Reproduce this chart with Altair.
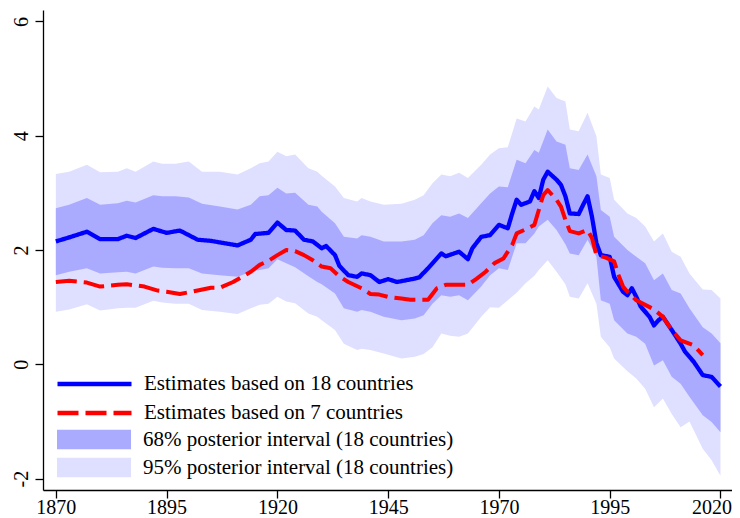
import altair as alt
import pandas as pd

# ---------------- data ----------------
band_years = [1870, 1873, 1877, 1880, 1884, 1886, 1888, 1892, 1894, 1897,
              1900, 1903, 1907, 1911, 1914, 1916, 1918, 1920, 1922, 1924,
              1927, 1929, 1930, 1933, 1935, 1938, 1939, 1941, 1944, 1948,
              1951, 1953, 1955, 1957, 1959, 1961, 1963, 1966, 1968, 1970,
              1972, 1974, 1976, 1978, 1979, 1981, 1983, 1985, 1986, 1988,
              1990, 1992, 1993, 1995, 1996, 1999, 2001, 2003, 2005, 2007,
              2009, 2011, 2013, 2016, 2018, 2020]
upper95 = [3.33, 3.37, 3.49, 3.36, 3.37, 3.43, 3.37, 3.55, 3.51, 3.51,
           3.55, 3.37, 3.37, 3.32, 3.43, 3.52, 3.55, 3.72, 3.64, 3.67,
           3.43, 3.37, 3.30, 3.11, 2.91, 2.85, 2.91, 2.85, 2.79, 2.81,
           2.88, 2.96, 3.17, 3.32, 3.29, 3.35, 3.26, 3.49, 3.67, 3.78,
           3.80, 4.30, 4.25, 4.51, 4.46, 4.86, 4.66, 4.60, 4.11, 4.08,
           4.40, 3.99, 3.32, 3.26, 2.88, 2.64, 2.56, 2.41, 2.15, 2.29,
           1.97, 1.88, 1.59, 1.31, 1.30, 1.15]
upper68 = [2.73, 2.79, 2.91, 2.79, 2.82, 2.86, 2.83, 2.96, 2.94, 2.94,
           2.92, 2.81, 2.76, 2.71, 2.79, 2.94, 2.96, 3.09, 2.99, 3.00,
           2.79, 2.76, 2.67, 2.47, 2.23, 2.20, 2.26, 2.23, 2.15, 2.15,
           2.18, 2.26, 2.47, 2.61, 2.58, 2.64, 2.56, 2.82, 2.99, 3.11,
           3.10, 3.58, 3.52, 3.75, 3.70, 4.11, 3.90, 3.84, 3.43, 3.40,
           3.67, 3.29, 2.70, 2.58, 2.23, 2.00, 1.88, 1.77, 1.47, 1.59,
           1.30, 1.24, 0.98, 0.65, 0.54, 0.37]
lower68 = [1.56, 1.62, 1.68, 1.59, 1.61, 1.62, 1.59, 1.71, 1.69, 1.68,
           1.68, 1.59, 1.56, 1.53, 1.62, 1.65, 1.68, 1.84, 1.77, 1.70,
           1.54, 1.44, 1.40, 1.24, 0.98, 0.92, 0.95, 0.92, 0.83, 0.77,
           0.80, 0.86, 1.06, 1.21, 1.18, 1.21, 1.12, 1.36, 1.56, 1.68,
           1.65, 2.12, 2.12, 2.29, 2.41, 2.53, 2.35, 2.10, 1.94, 1.91,
           2.18, 1.88, 1.12, 1.06, 0.77, 0.54, 0.48, 0.36, -0.02, 0.07,
           -0.22, -0.34, -0.57, -0.89, -1.01, -1.19]
lower95 = [0.92, 0.96, 1.05, 0.94, 0.98, 0.99, 0.99, 1.11, 1.08, 1.06,
           1.06, 0.95, 0.92, 0.88, 0.98, 1.04, 1.06, 1.18, 1.10, 1.07,
           0.89, 0.83, 0.77, 0.60, 0.36, 0.25, 0.27, 0.25, 0.19, 0.10,
           0.13, 0.18, 0.30, 0.54, 0.50, 0.48, 0.54, 0.83, 1.00, 0.99,
           1.12, 1.25, 1.42, 1.55, 1.65, 1.82, 1.62, 1.40, 1.18, 1.15,
           1.42, 1.06, 0.48, 0.30, 0.10, -0.12, -0.25, -0.43, -0.75, -0.60,
           -0.87, -1.10, -1.00, -1.48, -1.68, -1.95]

blue_years = [1870, 1873, 1877, 1880, 1884, 1886, 1888, 1892, 1895, 1898,
              1902, 1905, 1908, 1911, 1914, 1915, 1918, 1920, 1922, 1924,
              1926, 1928, 1930, 1931, 1933, 1934, 1936, 1938, 1939, 1941,
              1943, 1945, 1947, 1949, 1951, 1952, 1954, 1957, 1958, 1961,
              1963, 1964, 1966, 1968, 1970, 1972, 1973, 1974, 1975, 1977,
              1978, 1979, 1980, 1981, 1983, 1984, 1985, 1986, 1988, 1989,
              1990, 1991, 1992, 1993, 1995, 1996, 1998, 1999, 2000, 2001,
              2002, 2004, 2005, 2006, 2007, 2009, 2010, 2011, 2012, 2014,
              2016, 2018, 2020]
blue_vals = [2.15, 2.22, 2.32, 2.19, 2.19, 2.25, 2.21, 2.37, 2.30, 2.34,
             2.18, 2.16, 2.12, 2.08, 2.18, 2.28, 2.30, 2.48, 2.35, 2.34,
             2.18, 2.15, 2.03, 2.07, 1.91, 1.72, 1.56, 1.53, 1.59, 1.56,
             1.44, 1.49, 1.44, 1.47, 1.50, 1.52, 1.68, 1.94, 1.89, 1.97,
             1.84, 2.03, 2.23, 2.26, 2.44, 2.38, 2.64, 2.88, 2.79, 2.85,
             3.03, 2.91, 3.23, 3.37, 3.23, 3.14, 2.94, 2.64, 2.63, 2.79,
             2.94, 2.58, 2.12, 1.91, 1.88, 1.53, 1.27, 1.21, 1.33, 1.18,
             1.01, 0.83, 0.68, 0.77, 0.83, 0.60, 0.48, 0.36, 0.22, 0.04,
             -0.19, -0.22, -0.39]

red_years = [1870, 1873, 1877, 1880, 1884, 1886, 1890, 1893, 1895, 1898,
             1902, 1905, 1907, 1910, 1912, 1914, 1916, 1918, 1920, 1922,
             1924, 1926, 1928, 1930, 1932, 1934, 1936, 1939, 1941, 1943,
             1945, 1948, 1950, 1954, 1956, 1958, 1961, 1963, 1965, 1967,
             1969, 1971, 1973, 1974, 1976, 1978, 1979, 1980, 1981, 1983,
             1984, 1985, 1986, 1988, 1990, 1991, 1992, 1994, 1996, 1997,
             1998, 1999, 2001, 2005, 2007, 2009, 2011, 2014, 2016]
red_vals = [1.44, 1.46, 1.43, 1.36, 1.39, 1.40, 1.36, 1.29, 1.27, 1.23,
            1.29, 1.34, 1.34, 1.44, 1.53, 1.62, 1.74, 1.81, 1.91, 2.00,
            1.98, 1.91, 1.82, 1.71, 1.68, 1.54, 1.44, 1.33, 1.23, 1.22,
            1.18, 1.15, 1.13, 1.13, 1.33, 1.39, 1.39, 1.39, 1.50, 1.62,
            1.77, 1.85, 2.09, 2.29, 2.36, 2.44, 2.70, 2.96, 3.05, 2.88,
            2.76, 2.53, 2.33, 2.29, 2.35, 2.21, 1.91, 1.87, 1.80, 1.56,
            1.36, 1.27, 1.12, 0.96, 0.83, 0.60, 0.42, 0.33, 0.16]

x_ticks = [1870, 1895, 1920, 1945, 1970, 1995, 2020]
y_ticks = [-2, 0, 2, 4, 6]

LINE18 = "Estimates based on 18 countries"
LINE7 = "Estimates based on 7 countries"
BAND68 = "68% posterior interval (18 countries)"
BAND95 = "95% posterior interval (18 countries)"

# ---------------- tables ----------------
n = len(band_years)
bands = pd.DataFrame({
    "year": band_years + band_years,
    "lo": lower68 + lower95,
    "hi": upper68 + upper95,
    "band": [BAND68] * n + [BAND95] * n,
})
lines = pd.DataFrame({
    "year": blue_years + red_years,
    "value": blue_vals + red_vals,
    "series": [LINE18] * len(blue_years) + [LINE7] * len(red_years),
})

FONT = "Liberation Serif"

x_enc = alt.X("year:Q",
              scale=alt.Scale(domain=[1867.1, 2022.6], nice=False, zero=False),
              axis=alt.Axis(values=x_ticks, format="d", title=None,
                            tickSize=8, labelPadding=-1, labelBaseline="top",
                            labelFlush=12.2, labelFlushOffset=11))
y_scale = alt.Scale(domain=[-2.2, 6.2], nice=False, zero=False)
y_axis = alt.Axis(values=y_ticks, title=None, tickSize=8, labelPadding=8,
                  labelAngle=270, labelAlign="center",
                  labelBaseline="alphabetic",
                  labelExpr="'' + datum.value")

fill_scale = alt.Scale(domain=[BAND68, BAND95], range=["#aaaaff", "#dfdfff"])
fill_legend = alt.Legend(orient="none", legendX=14, legendY=419.5, title=None,
                         symbolType="M-1,-0.27H1V0.27H-1Z", symbolSize=5476,
                         symbolStrokeWidth=0, clipHeight=20, rowPadding=7,
                         labelOffset=12, labelFont=FONT, labelFontSize=21,
                         labelColor="black", labelLimit=600, padding=0,
                         symbolOpacity=1)

color_scale = alt.Scale(domain=[LINE18, LINE7], range=["#0000ff", "#ff0000"])
dash_scale = alt.Scale(domain=[LINE18, LINE7], range=[[1, 0], [21, 7]])
line_legend = alt.Legend(orient="none", legendX=12, legendY=364, title=None,
                         symbolType="stroke", symbolSize=5476,
                         symbolStrokeWidth=4.5, clipHeight=20, rowPadding=8,
                         labelOffset=10, labelFont=FONT, labelFontSize=21,
                         labelColor="black", labelLimit=600, padding=0)

base_band = alt.Chart(bands)
area95 = base_band.transform_filter(alt.datum.band == BAND95).mark_area(
    opacity=1, interpolate="linear").encode(
    x=x_enc,
    y=alt.Y("hi:Q", scale=y_scale, axis=y_axis),
    y2="lo:Q",
    fill=alt.Fill("band:N", scale=fill_scale, legend=fill_legend),
)
area68 = base_band.transform_filter(alt.datum.band == BAND68).mark_area(
    opacity=1, interpolate="linear").encode(
    x=x_enc,
    y=alt.Y("hi:Q", scale=y_scale, axis=y_axis),
    y2="lo:Q",
    fill=alt.Fill("band:N", scale=fill_scale, legend=fill_legend),
)

base_line = alt.Chart(lines)
line_enc = dict(
    x=x_enc,
    y=alt.Y("value:Q", scale=y_scale, axis=y_axis),
    color=alt.Color("series:N", scale=color_scale, legend=line_legend),
    strokeDash=alt.StrokeDash("series:N", scale=dash_scale, legend=line_legend),
)
blue = base_line.transform_filter(alt.datum.series == LINE18).mark_line(
    strokeWidth=4.3, strokeJoin="round", strokeCap="butt").encode(**line_enc)
red = base_line.transform_filter(alt.datum.series == LINE7).mark_line(
    strokeWidth=4.0, strokeJoin="round", strokeCap="butt").encode(**line_enc)

chart = alt.layer(area95, area68, blue, red).properties(
    width=689, height=480,
    background="white",
    autosize=alt.AutoSizeParams(type="none"),
    padding={"left": 35, "top": 2, "right": 0, "bottom": 28},
).configure_view(stroke=None).configure_axis(
    grid=False, domainColor="black", domainWidth=1.3, tickColor="black",
    tickWidth=1.3, labelColor="black", labelFont=FONT, labelFontSize=20,
)

chart.save("out.html", embed_options={"renderer": "svg", "actions": False})
